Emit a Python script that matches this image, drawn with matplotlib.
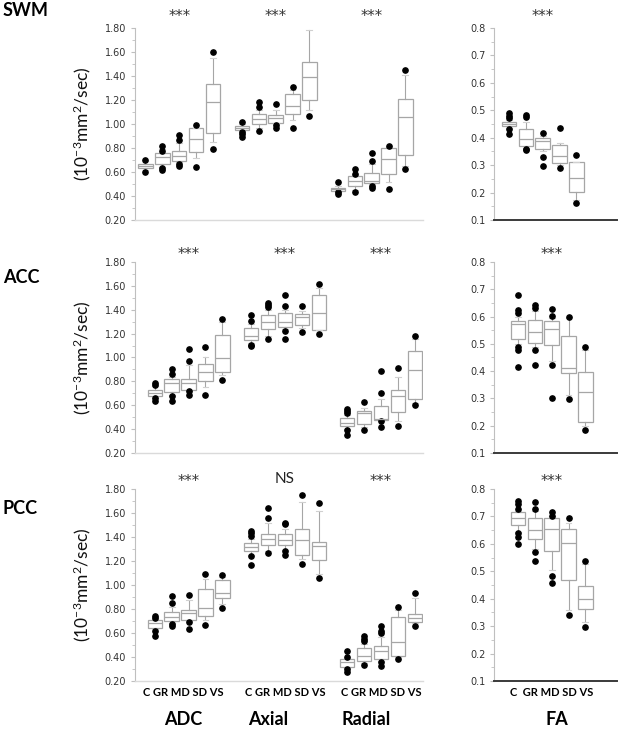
import matplotlib
matplotlib.use('Agg')
import matplotlib.pyplot as plt
from matplotlib.ticker import MultipleLocator, FormatStrFormatter
import matplotlib.transforms as mtransforms

plt.rcParams['font.family'] = ['DejaVu Sans']
plt.rcParams['mathtext.default'] = 'regular'

# ---------------- data ----------------
GROUPS = ['C', 'GR', 'MD', 'SD', 'VS']
MEASURES = ['ADC', 'Axial', 'Radial']
REGIONS = ['SWM', 'ACC', 'PCC']
SIG_SWM = ['***', '***', '***', '***']
SIG_ACC = ['***', '***', '***', '***']
SIG_PCC = ['***', 'NS', '***', '***']

# (whisker low, q1, median, q3, whisker high) for C, GR, MD, SD, VS
SWM_ADC = [(0.62, 0.631, 0.650, 0.667, 0.69), (0.64, 0.664, 0.722, 0.758, 0.79),
           (0.68, 0.689, 0.733, 0.775, 0.84), (0.72, 0.764, 0.878, 0.964, 0.97),
           (0.85, 0.928, 1.186, 1.331, 1.547)]
SWM_ADC_OUT = [[0.70, 0.603], [0.817, 0.778, 0.63, 0.617], [0.908, 0.867, 0.667, 0.65],
               [0.992, 0.644], [1.60, 0.792]]
SWM_AX = [(0.94, 0.95, 0.969, 0.986, 1.00), (0.97, 1.003, 1.039, 1.086, 1.12),
          (1.011, 1.011, 1.047, 1.075, 1.12), (1.033, 1.086, 1.153, 1.247, 1.28),
          (1.12, 1.20, 1.389, 1.514, 1.783)]
SWM_AX_OUT = [[1.019, 0.93, 0.914, 0.894], [1.183, 1.144, 0.944], [1.167, 0.995, 0.969],
              [1.311, 0.964], [1.853, 1.069]]
SWM_RAD = [(0.435, 0.442, 0.456, 0.469, 0.48), (0.45, 0.481, 0.528, 0.564, 0.575),
           (0.50, 0.511, 0.528, 0.589, 0.67), (0.52, 0.581, 0.708, 0.80, 0.81),
           (0.653, 0.739, 1.056, 1.206, 1.408)]
SWM_RAD_OUT = [[0.514, 0.43, 0.417], [0.625, 0.583, 0.436], [0.758, 0.692, 0.48, 0.464],
               [0.817, 0.458], [1.45, 0.625]]
SWM_FA = [(0.435, 0.441, 0.45, 0.457, 0.465), (0.362, 0.368, 0.394, 0.431, 0.459),
          (0.35, 0.36, 0.387, 0.398, 0.405), (0.30, 0.309, 0.333, 0.372, 0.382),
          (0.173, 0.203, 0.252, 0.31, 0.31)]
SWM_FA_OUT = [[0.489, 0.48, 0.471, 0.431, 0.413], [0.483, 0.475, 0.36, 0.356],
              [0.419, 0.329, 0.296], [0.435, 0.288], [0.338, 0.161]]

ACC_ADC = [(0.66, 0.675, 0.706, 0.731, 0.76), (0.69, 0.714, 0.783, 0.822, 0.84),
           (0.72, 0.731, 0.783, 0.822, 0.936), (0.75, 0.806, 0.875, 0.942, 1.008),
           (0.85, 0.881, 0.992, 1.189, 1.297)]
ACC_ADC_OUT = [[0.789, 0.772, 0.658, 0.639], [0.90, 0.864, 0.675, 0.639],
               [1.072, 0.969, 0.717, 0.686], [1.089, 0.689], [1.325, 0.814]]
ACC_AX = [(1.12, 1.147, 1.183, 1.25, 1.28), (1.18, 1.236, 1.297, 1.358, 1.40),
          (1.24, 1.256, 1.30, 1.372, 1.40), (1.25, 1.275, 1.336, 1.364, 1.39),
          (1.23, 1.231, 1.372, 1.525, 1.58)]
ACC_AX_OUT = [[1.356, 1.308, 1.108, 1.097], [1.456, 1.44, 1.42, 1.156],
              [1.525, 1.431, 1.225, 1.156], [1.431, 1.214], [1.617, 1.197]]
ACC_RAD = [(0.40, 0.425, 0.45, 0.492, 0.52), (0.42, 0.439, 0.536, 0.553, 0.58),
           (0.47, 0.475, 0.489, 0.592, 0.65), (0.47, 0.542, 0.675, 0.725, 0.836),
           (0.62, 0.656, 0.892, 1.058, 1.153)]
ACC_RAD_OUT = [[0.567, 0.55, 0.535, 0.394, 0.35], [0.625, 0.392], [0.889, 0.70, 0.464, 0.414],
               [0.914, 0.422], [1.183, 0.60]]
ACC_FA = [(0.50, 0.517, 0.574, 0.585, 0.60), (0.49, 0.504, 0.543, 0.588, 0.62),
          (0.439, 0.495, 0.555, 0.585, 0.595), (0.313, 0.394, 0.412, 0.528, 0.595),
          (0.20, 0.212, 0.323, 0.397, 0.476)]
ACC_FA_OUT = [[0.678, 0.623, 0.613, 0.49, 0.479, 0.416], [0.641, 0.631, 0.479, 0.424],
              [0.626, 0.603, 0.424, 0.303], [0.60, 0.298], [0.489, 0.184]]

PCC_ADC = [(0.63, 0.643, 0.68, 0.71, 0.72), (0.68, 0.702, 0.733, 0.772, 0.82),
           (0.70, 0.71, 0.766, 0.794, 0.877), (0.71, 0.744, 0.81, 0.969, 1.053),
           (0.84, 0.891, 0.93, 1.045, 1.07)]
PCC_ADC_OUT = [[0.744, 0.727, 0.615, 0.576], [0.905, 0.852, 0.677, 0.66],
               [0.916, 0.688, 0.635], [1.095, 0.663], [1.087, 0.81]]
PCC_AX = [(1.25, 1.282, 1.318, 1.354, 1.38), (1.28, 1.337, 1.385, 1.429, 1.52),
          (1.29, 1.335, 1.374, 1.429, 1.47), (1.217, 1.251, 1.374, 1.468, 1.691),
          (1.092, 1.212, 1.323, 1.362, 1.613)]
PCC_AX_OUT = [[1.449, 1.43, 1.41, 1.24, 1.167], [1.638, 1.558, 1.265],
              [1.52, 1.505, 1.282, 1.248], [1.747, 1.173], [1.683, 1.061]]
PCC_RAD = [(0.305, 0.32, 0.359, 0.387, 0.395), (0.35, 0.365, 0.412, 0.471, 0.51),
           (0.37, 0.387, 0.448, 0.493, 0.57), (0.40, 0.409, 0.526, 0.735, 0.788),
           (0.68, 0.691, 0.727, 0.758, 0.889)]
PCC_RAD_OUT = [[0.451, 0.401, 0.30, 0.273], [0.571, 0.55, 0.537, 0.331],
               [0.657, 0.62, 0.60, 0.359, 0.323], [0.819, 0.387], [0.93, 0.66]]
PCC_FA = [(0.645, 0.667, 0.695, 0.717, 0.72), (0.58, 0.616, 0.65, 0.696, 0.72),
          (0.504, 0.573, 0.653, 0.696, 0.70), (0.358, 0.47, 0.604, 0.653, 0.675),
          (0.314, 0.364, 0.398, 0.448, 0.525)]
PCC_FA_OUT = [[0.757, 0.744, 0.727, 0.638, 0.626, 0.601], [0.754, 0.728, 0.572, 0.536],
              [0.715, 0.703, 0.482, 0.459], [0.693, 0.341], [0.539, 0.298]]

LEFT_DATA = [
    [(SWM_ADC, SWM_ADC_OUT), (SWM_AX, SWM_AX_OUT), (SWM_RAD, SWM_RAD_OUT)],
    [(ACC_ADC, ACC_ADC_OUT), (ACC_AX, ACC_AX_OUT), (ACC_RAD, ACC_RAD_OUT)],
    [(PCC_ADC, PCC_ADC_OUT), (PCC_AX, PCC_AX_OUT), (PCC_RAD, PCC_RAD_OUT)],
]
FA_DATA = [(SWM_FA, SWM_FA_OUT), (ACC_FA, ACC_FA_OUT), (PCC_FA, PCC_FA_OUT)]
SIGS = [SIG_SWM, SIG_ACC, SIG_PCC]

# ---------------- layout ----------------
W, H = 623, 738
GROUP_START = [1.0, 6.7, 12.38]
BOX_W = 0.85
ROW_TOP = [28, 262, 489]
ROW_BOT = [220, 453, 681]
LEFT_X = (134.5, 423)
FA_X = (494, 617)
LEFT_XLIM = [(0.35, 17.42), (-0.2, 16.87), (-0.2, 16.87)]
FA_XLIM = [(0.12, 7.4), (-0.41, 6.87), (-0.41, 6.87)]
ROW_LABEL_Y = [10, 278, 509]
SIG_PAD = [1.068, 1.05, 1.05]

EDGE = '#a6a6a6'
CAP = '#d0d0d0'
TXT = ['Lato', 'DejaVu Sans']


def make_stats(rows, outs):
    return [dict(whislo=r[0], q1=r[1], med=r[2], q3=r[3], whishi=r[4], fliers=o)
            for r, o in zip(rows, outs)]


def draw_boxes(ax, rows, outs, positions):
    ax.bxp(make_stats(rows, outs), positions=positions, widths=BOX_W,
           patch_artist=True, showfliers=True, capwidths=0.35,
           boxprops=dict(facecolor='white', edgecolor=EDGE, linewidth=0.9),
           medianprops=dict(color=EDGE, linewidth=0.9),
           whiskerprops=dict(color=EDGE, linewidth=0.8),
           capprops=dict(color=CAP, linewidth=0.8),
           flierprops=dict(marker='o', markerfacecolor='black',
                           markeredgecolor='black', markersize=3.8))


def style_axes(ax, fa=False):
    for s in ['top', 'right']:
        ax.spines[s].set_visible(False)
    ax.spines['left'].set_color('#bfbfbf')
    ax.spines['left'].set_linewidth(0.8)
    if fa:
        ax.spines['bottom'].set_color('#3a3a3a')
        ax.spines['bottom'].set_linewidth(1.4)
    else:
        ax.spines['bottom'].set_color('#dadada')
        ax.spines['bottom'].set_linewidth(1.0)
    ax.set_xticks([])
    ax.tick_params(axis='y', which='major', direction='out', length=3,
                   color='#bfbfbf', labelsize=7, labelcolor='#333333', pad=3)
    ax.tick_params(axis='y', which='minor', direction='out', length=2,
                   color='#bfbfbf')


def sig_text(ax, x, y, s, tr):
    if s == 'NS':
        ax.text(x, y, s, transform=tr, ha='center', va='center', fontsize=11,
                color='#222222', family=TXT)
    else:
        ax.text(x, y - 0.01, s, transform=tr, ha='center', va='center', fontsize=10.5,
                color='#333333', family=['DejaVu Sans'])


fig = plt.figure(figsize=(W / 100, H / 100), dpi=100)

for r in range(3):
    bottom = 1 - ROW_BOT[r] / H
    height = (ROW_BOT[r] - ROW_TOP[r]) / H
    ax = fig.add_axes([LEFT_X[0] / W, bottom, (LEFT_X[1] - LEFT_X[0]) / W, height])
    centers = []
    for g in range(3):
        rows, outs = LEFT_DATA[r][g]
        pos = [GROUP_START[g] + i for i in range(len(GROUPS))]
        draw_boxes(ax, rows, outs, pos)
        centers.append(GROUP_START[g] + 2)
    ax.set_xlim(*LEFT_XLIM[r])
    ax.set_ylim(0.2, 1.8)
    ax.yaxis.set_major_locator(MultipleLocator(0.2))
    ax.yaxis.set_minor_locator(MultipleLocator(0.1))
    ax.yaxis.set_major_formatter(FormatStrFormatter('%.2f'))
    style_axes(ax)
    tr = mtransforms.blended_transform_factory(ax.transData, ax.transAxes)
    for g in range(3):
        sig_text(ax, centers[g], SIG_PAD[r], SIGS[r][g], tr)
    ax.text(-0.18, 0.5, '(10$^{-3}$mm$^{2}$/sec)', transform=ax.transAxes,
            rotation=90, ha='center', va='center', fontsize=12.5,
            family=TXT, color='#111111')
    fig.text(3 / W, 1 - ROW_LABEL_Y[r] / H, REGIONS[r], ha='left', va='center',
             fontsize=13, fontweight='bold', family=TXT)
    if r == 2:
        name_off = [-0.3, -1.0, -0.9]
        tick_off = [-0.3, 0.0, 0.0]
        for g in range(3):
            ax.text(centers[g] + tick_off[g], -0.06, ' '.join(GROUPS), transform=tr,
                    ha='center', va='center', fontsize=8, fontweight='bold', family=TXT)
            ax.text(centers[g] + name_off[g], -0.2, MEASURES[g], transform=tr,
                    ha='center', va='center', fontsize=13, fontweight='bold', family=TXT)

    # FA panel
    axf = fig.add_axes([FA_X[0] / W, bottom, (FA_X[1] - FA_X[0]) / W, height])
    rows, outs = FA_DATA[r]
    pos = [1 + i for i in range(len(GROUPS))]
    draw_boxes(axf, rows, outs, pos)
    axf.set_xlim(*FA_XLIM[r])
    axf.set_ylim(0.1, 0.8)
    axf.yaxis.set_major_locator(MultipleLocator(0.1))
    axf.yaxis.set_minor_locator(MultipleLocator(0.05))
    axf.yaxis.set_major_formatter(FormatStrFormatter('%.1f'))
    style_axes(axf, fa=True)
    trf = mtransforms.blended_transform_factory(axf.transData, axf.transAxes)
    sig_text(axf, 3, SIG_PAD[r], SIGS[r][3], trf)
    if r == 2:
        axf.text(3, -0.06, 'C  ' + ' '.join(GROUPS[1:]), transform=trf, ha='center',
                 va='center', fontsize=8, fontweight='bold', family=TXT)
        axf.text(3.3, -0.2, 'FA', transform=trf, ha='center', va='center',
                 fontsize=13, fontweight='bold', family=TXT)

fig.savefig('out.png', dpi=100, facecolor='white')
